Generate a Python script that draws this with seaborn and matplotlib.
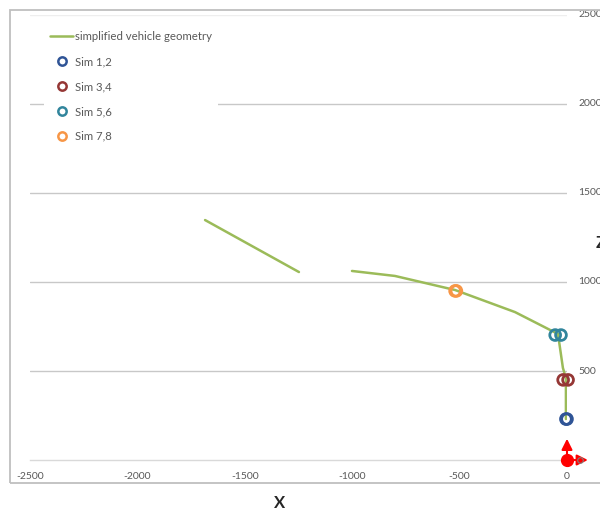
import numpy as np
import pandas as pd
import matplotlib
matplotlib.use("Agg")
import matplotlib.pyplot as plt
from matplotlib.lines import Line2D
from matplotlib.patches import Rectangle
import seaborn as sns

# ---- data ----
geom_x = [-1685, -1248, -1001, -801, -521, -242, -42, -19, -5, -5]
geom_z = [1348, 1056, 1062, 1034, 955, 831, 708, 517, 461, 230]
geom_seg = [1, 1, 2, 2, 2, 2, 2, 2, 2, 2]

sim12_x = [-5, 0]
sim12_z = [230, 230]
sim34_x = [-18, 5]
sim34_z = [450, 450]
sim56_x = [-55, -28]
sim56_z = [702, 702]
sim78_x = [-521, -515]
sim78_z = [950, 950]

series_labels = ["Sim 1,2", "Sim 3,4", "Sim 5,6", "Sim 7,8"]
x_ticks = [-2500, -2000, -1500, -1000, -500, 0]
z_ticks = [500, 1000, 1500, 2000, 2500]

# ---- style ----
sns.set_theme(style="white")
plt.rcParams["font.family"] = ["Lato", "DejaVu Sans"]

GREEN = "#9BBB59"
COLORS = ["#2F5496", "#953735", "#31859C", "#F79646"]
TXT = "#595959"
GRID = "#C8C8C8"

fig = plt.figure(figsize=(6.0, 5.11), dpi=100)
W, H = 600, 511
ax = fig.add_axes([30 / W, 1 - 460 / H, (567 - 30) / W, (460 - 15) / H])

# chart border
fig.patches.append(Rectangle((10 / W, 1 - 483 / H), 1.2, (483 - 10) / H,
                             transform=fig.transFigure, fill=False,
                             edgecolor="#BFBFBF", linewidth=1.3, zorder=0))

ax.set_xlim(-2500, 0)
ax.set_ylim(0, 2500)

for z in z_ticks:
    ax.axhline(z, color=GRID if z < 2500 else "#EEEEEE", lw=1.0, zorder=0)

geom = pd.DataFrame({"x": geom_x, "z": geom_z, "seg": geom_seg})
sns.lineplot(data=geom, x="x", y="z", units="seg", estimator=None, sort=False,
             color=GREEN, lw=1.8, ax=ax, legend=False, zorder=3)

sims = [(sim12_x, sim12_z), (sim34_x, sim34_z), (sim56_x, sim56_z), (sim78_x, sim78_z)]
for (sx, sz), c in zip(sims, COLORS):
    sns.scatterplot(x=sx, y=sz, marker="o", s=60, facecolor="none",
                    edgecolor=c, linewidth=2.0, ax=ax, zorder=4, clip_on=False)

# red coordinate triad at origin
ax.annotate("", xy=(0, 135), xytext=(0, 0),
            arrowprops=dict(arrowstyle="-|>", color="red", lw=1.5, mutation_scale=16),
            annotation_clip=False, zorder=6)
ax.annotate("", xy=(110, 0), xytext=(0, 0),
            arrowprops=dict(arrowstyle="-|>", color="red", lw=1.5, mutation_scale=16),
            annotation_clip=False, zorder=6)
ax.plot([0], [0], marker="o", ms=8.5, color="red", clip_on=False, zorder=7)
ax.plot([60], [0], marker="o", ms=4, mfc="none", mec="#808080", mew=0.8,
        clip_on=False, zorder=7)

# axes styling
for s in ["top", "left", "right"]:
    ax.spines[s].set_visible(False)
ax.spines["bottom"].set_color("#D9D9D9")
ax.spines["bottom"].set_linewidth(1.0)
ax.set_xticks(x_ticks)
ax.set_xticklabels([str(v) for v in x_ticks])
ax.set_yticks(z_ticks)
ax.set_yticklabels([str(v) for v in z_ticks])
ax.yaxis.tick_right()
ax.tick_params(axis="x", direction="inout", length=5, color="#D9D9D9", width=1,
               labelsize=7.5, labelcolor=TXT, pad=6)
ax.tick_params(axis="y", length=0, labelsize=7.5, labelcolor=TXT, pad=8)
for lab in ax.get_yticklabels():
    lab.set_verticalalignment("center")
ax.set_xlabel("")
ax.set_ylabel("")

fig.text(280 / W, 1 - 503 / H, "X", ha="center", va="center", fontsize=12,
         color="#262626", fontweight="bold")
fig.text(596 / W, 1 - 243 / H, "Z", ha="left", va="center", fontsize=12,
         color="#262626", fontweight="bold")

handles = [Line2D([], [], color=GREEN, lw=1.8)]
for c in COLORS:
    handles.append(Line2D([], [], ls="none", marker="o", ms=6, mfc="none",
                          mec=c, mew=1.8))
labels = ["simplified vehicle geometry"] + series_labels
leg = ax.legend(handles, labels, loc="upper left",
                bbox_to_anchor=(44 / W, 1 - 25 / H), bbox_transform=fig.transFigure,
                frameon=True, fontsize=8.2, labelspacing=1.22, handlelength=2.0,
                handletextpad=0.15, borderpad=0.55, borderaxespad=0)
leg.get_frame().set_facecolor("white")
leg.get_frame().set_edgecolor("none")
leg.get_frame().set_alpha(1.0)
for t in leg.get_texts():
    t.set_color(TXT)

fig.savefig("out.png", dpi=100)
